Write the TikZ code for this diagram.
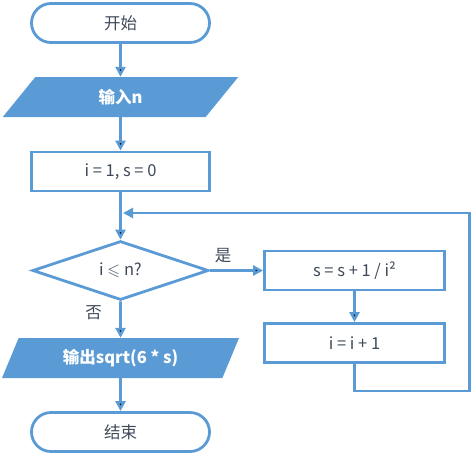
\documentclass[tikz,border=0pt]{standalone}
\usepackage{amssymb}
\usepackage{fontspec}
\setmainfont{Noto Sans CJK SC}
\usetikzlibrary{shapes.geometric,arrows.meta}
\definecolor{flow}{HTML}{5B9BD5}
\definecolor{ink}{HTML}{3F4A59}
\begin{document}
\begin{tikzpicture}[x=1pt,y=-1pt,
  font=\fontsize{16.5}{19}\selectfont,
  box node/.style={rectangle,draw=flow,line width=2.8pt,text=ink,minimum width=178pt,minimum height=39pt},
  end node/.style={box node,rounded corners=19.5pt},
  io node/.style={trapezium,trapezium left angle=62,trapezium right angle=118,trapezium stretches=true,
    fill=flow,text=white,font=\fontsize{16.5}{19}\selectfont\bfseries,minimum width=237pt,minimum height=40pt,inner sep=0pt},
  test node/.style={diamond,draw=flow,line width=2.8pt,text=ink,aspect=2.9,minimum width=176pt,minimum height=59pt,inner sep=0pt}]
  \useasboundingbox (0,0) rectangle (474,456);

  \node[end node] (0) at (120.5,23){开始};
  \node[io node] (1) at (120.5,97){输入n};
  \node[box node] (2) at (120.5,171.5){i = 1, s = 0};
  \node[test node] (3) at (120.5,270.5){i $\leqslant$ n?};
  \node[io node] (4) at (120.5,358){输出sqrt(6 * s)};
  \node[end node] (5) at (120.5,432){结束};
  \node[box node,minimum width=180pt] (6) at (354.5,270.5){s = s + 1 / i²};
  \node[box node,minimum width=180pt] (7) at (354.5,343){i = i + 1};

  \coordinate (a) at (469.5,391);
  \coordinate (b) at (123,213);

  \path[draw=flow,line width=2.8pt,-{Triangle[length=10pt,width=10pt]},every node/.style={text=ink}]
    (0) edge (1)
    (1) edge (2)
    (2) edge (3)
    (3) edge node[pos=0.3,left=14pt]{否}(4)
    (4) edge (5)
    (3) edge node[pos=0.25,above=3pt]{是}(6)
    (6) edge (7);
  \draw[flow,line width=2.8pt,-{Triangle[length=10pt,width=10pt]}] (7) |- (a) |- (b);
\end{tikzpicture}
\end{document}
